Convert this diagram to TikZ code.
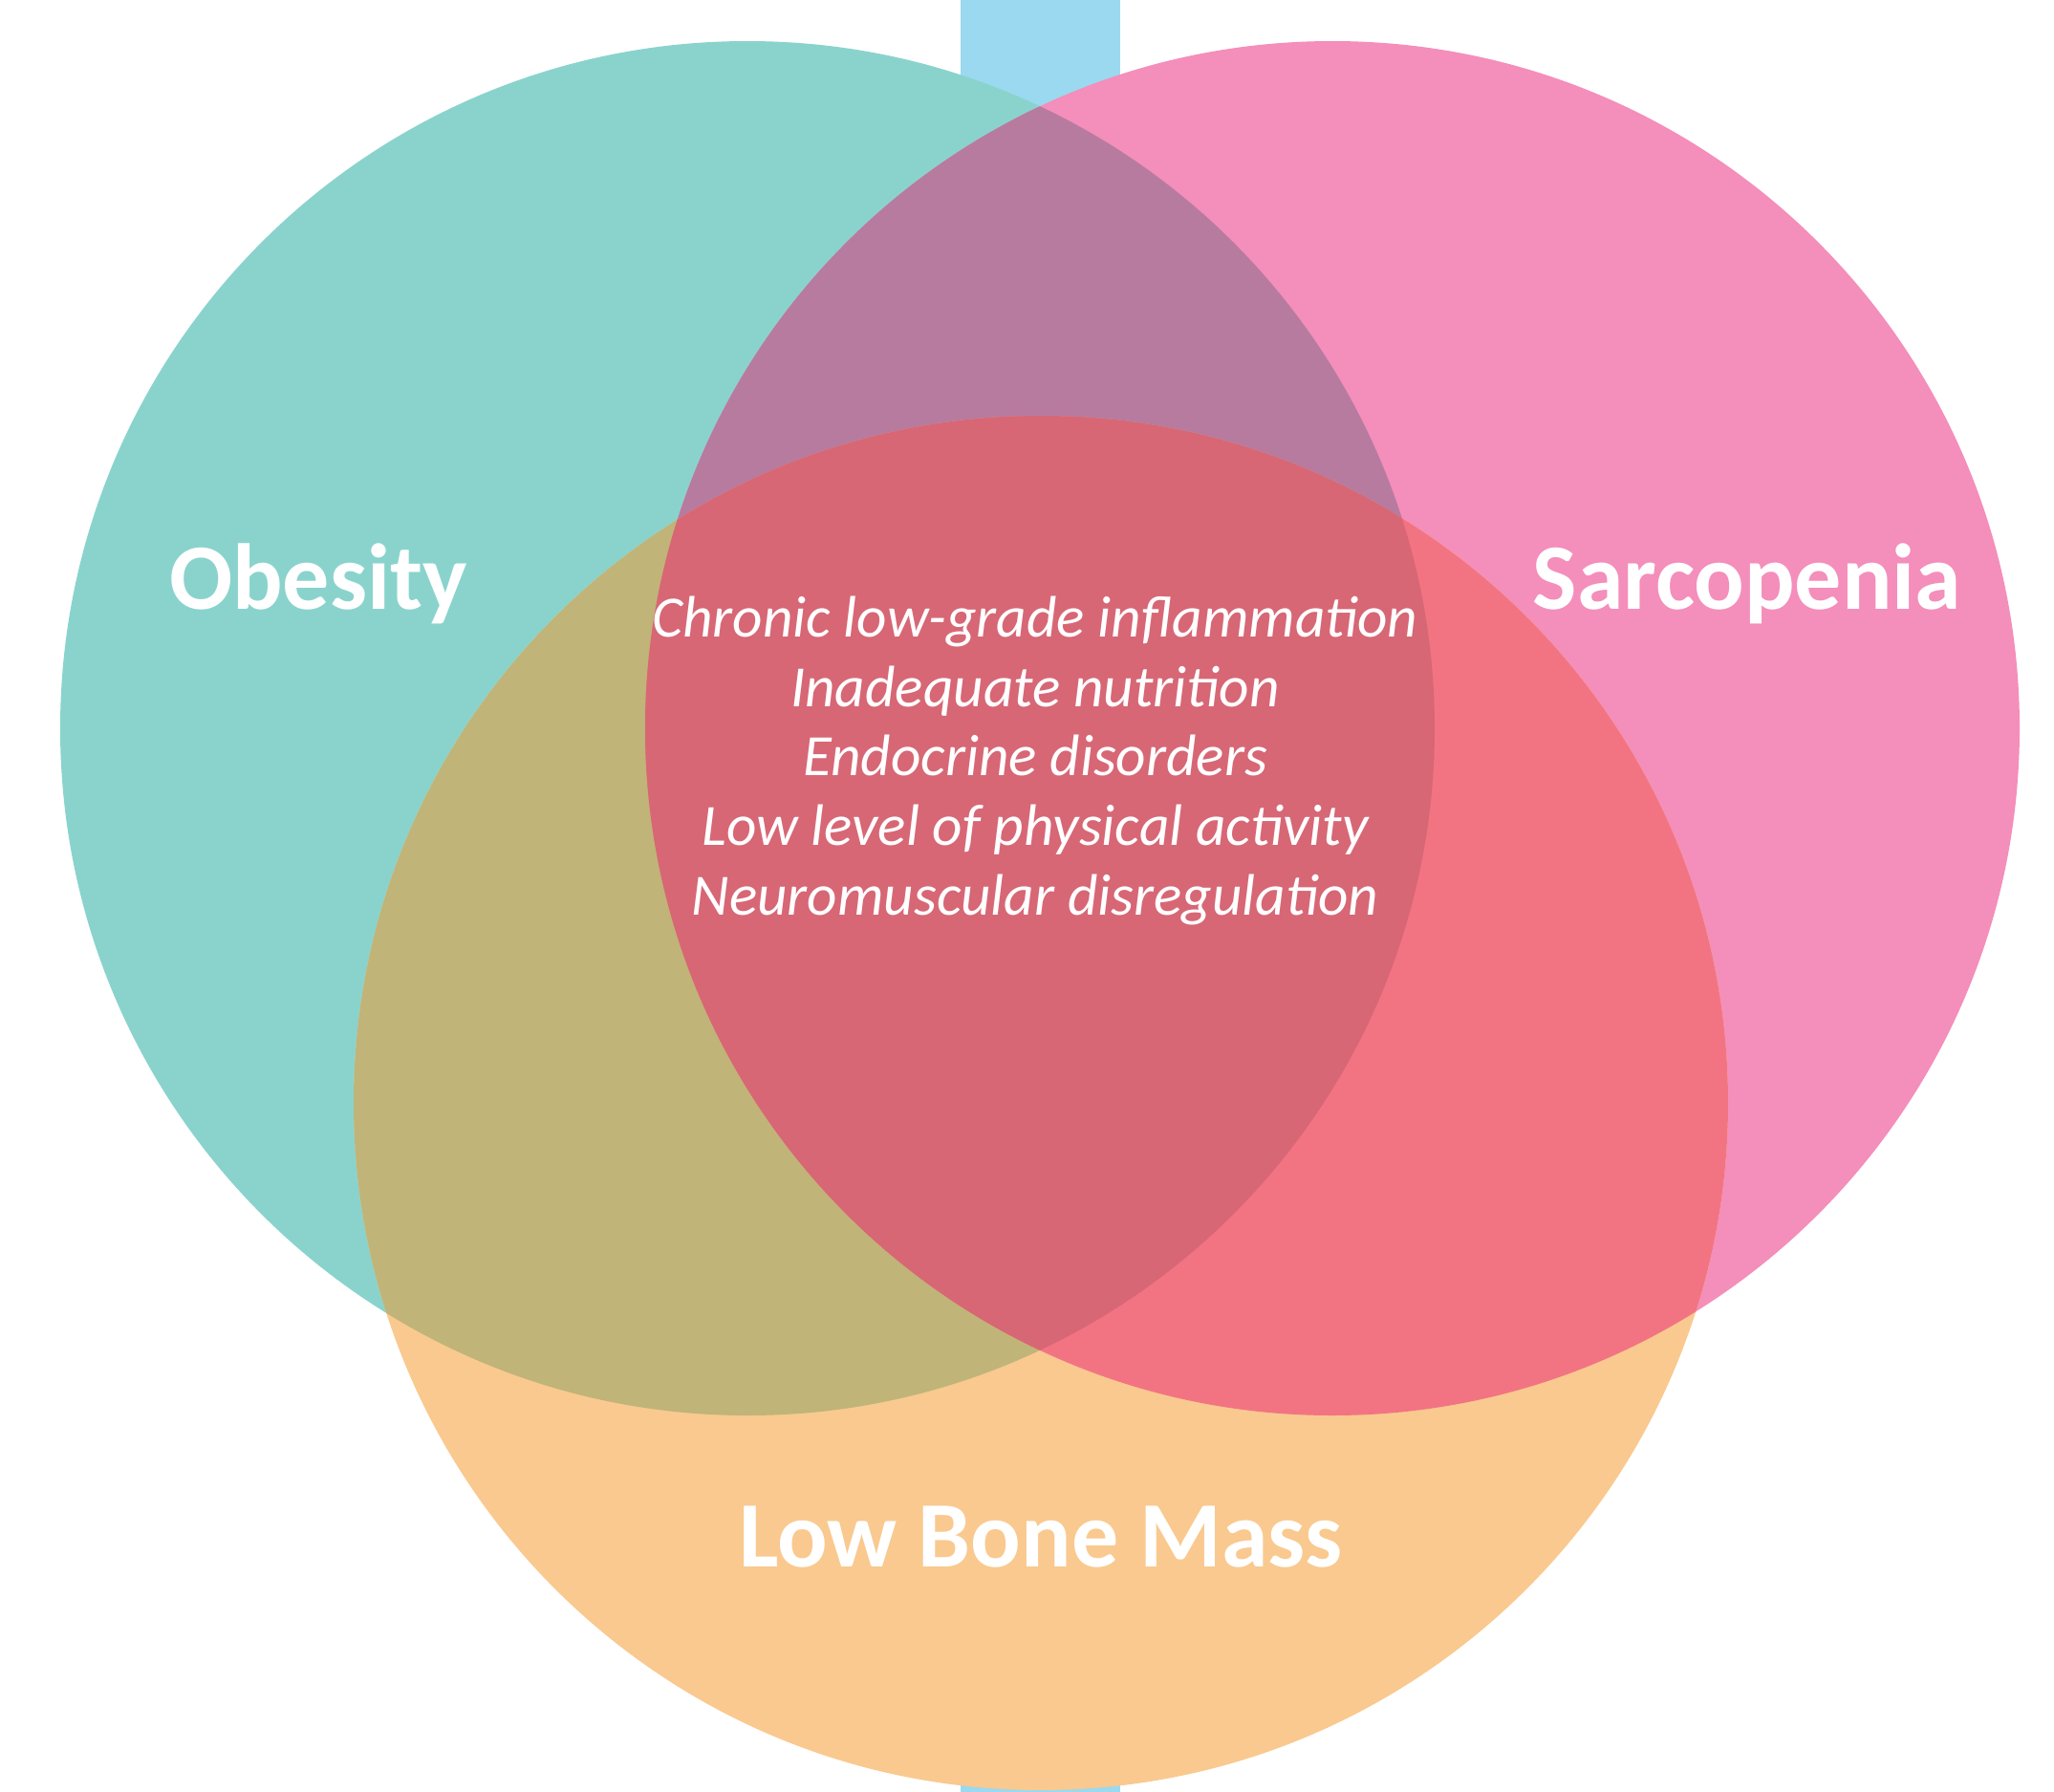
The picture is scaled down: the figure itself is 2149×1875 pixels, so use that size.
\documentclass[tikz,border=0pt]{standalone}
\usepackage{xcolor}
\usepackage{fontspec}
\setmainfont{Carlito}
\usepackage{tikz}
\usetikzlibrary{positioning}

\definecolor{barblue}{HTML}{9BD9F0}
\definecolor{obesityteal}{HTML}{8AD3CD}
\definecolor{sarcopink}{HTML}{F48EBB}
\definecolor{boneorange}{HTML}{F9C98F}
\definecolor{obsarc}{HTML}{B77BA0}
\definecolor{obsbone}{HTML}{C0B478}
\definecolor{sarcbone}{HTML}{F27483}
\definecolor{allthree}{HTML}{D76775}

\begin{document}
\begin{tikzpicture}[
    x=0.5pt, y=-0.5pt,
    setname/.style={text=white, anchor=base, inner sep=0pt, font=\fontsize{49}{59}\selectfont\bfseries},
    factor/.style={text=white, anchor=base, inner sep=0pt, font=\fontsize{30.6}{37}\selectfont\itshape}
]
    \useasboundingbox (0,0) rectangle (2149,1875);

    % Centres
    \coordinate (obesity) at (782,762);
    \coordinate (sarco) at (1394,762);
    \coordinate (bone) at (1089,1154);

    % Blue bar behind
    \fill[barblue] (1005,0) rectangle (1172,1875);

    % Circles
    \fill[obesityteal] (obesity) circle[radius=719];
    \fill[sarcopink] (sarco) circle[radius=719];
    \fill[boneorange] (bone) circle[radius=719];

    % Overlaps
    \begin{scope}
        \clip (obesity) circle[radius=719];
        \fill[obsarc] (sarco) circle[radius=719];
        \fill[obsbone] (bone) circle[radius=719];
    \end{scope}
    \begin{scope}
        \clip (sarco) circle[radius=719];
        \fill[sarcbone] (bone) circle[radius=719];
    \end{scope}
    \begin{scope}
        \clip (obesity) circle[radius=719];
        \clip (sarco) circle[radius=719];
        \fill[allthree] (bone) circle[radius=719];
    \end{scope}

    % Set names
    \node[setname] (obesitylbl) at (333,637) {Obesity};
    \node[setname] (sarcolbl) at (1828,637) {Sarcopenia};
    \node[setname] (bonelbl) at (1089,1639) {Low Bone Mass};

    % Shared factors
    \node[factor] (inflam) at (1083,666) {Chronic low-grade inflammation};
    \node[factor] (nutri) at (1083,739) {Inadequate nutrition};
    \node[factor] (endo) at (1083,811) {Endocrine disorders};
    \node[factor] (activ) at (1083,884) {Low level of physical activity};
    \node[factor] (neuro) at (1083,957) {Neuromuscular disregulation};
\end{tikzpicture}
\end{document}
